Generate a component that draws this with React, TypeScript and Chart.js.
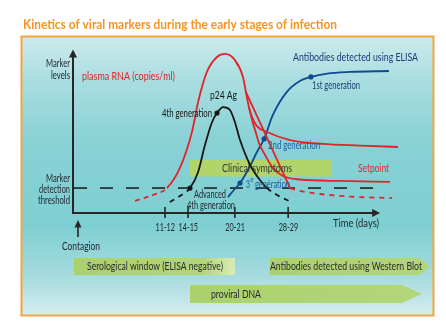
import React, { useEffect, useRef } from "react";
import { Chart, registerables } from "chart.js";

Chart.register(...registerables);

const W = 446;
const H = 332;
const FONT = "'Liberation Sans Narrow', 'Lato', 'Open Sans', sans-serif";

// Time axis (arbitrary units 0-100) and marker level (0-100)
const tickValues = [28.3, 35.4, 49.8, 66.2];
const tickLabels = ["11-12", "14-15", "20-21", "28-29"];
const threshold = 15.5;
const axisEnd = 94.5;
const axisTop = 101.5;
const thresholdEnd = 93.2;

// plasma RNA: rise, peak and high setpoint
const rnaX = [19.1, 24.6, 28.9, 32.9, 36.6, 38.5, 41.2, 44.3, 46.8, 49.8, 52.3, 53.2, 54.2, 55.1, 56.6, 59.7, 66.8, 76.9, 88.3, 100];
const rnaY = [7.5, 11.2, 15.5, 28.0, 50.3, 68.9, 87.6, 96.9, 98.8, 95.0, 84.5, 75.2, 65.2, 59.6, 54.0, 50.3, 45.3, 42.9, 41.9, 41.0];
// plasma RNA: lower setpoint
const rnaLowX = [54.2, 55.1, 56.3, 57.2, 59.1, 61.5, 64.6, 69.8, 82.2, 97.5];
const rnaLowY = [65.2, 57.8, 49.7, 43.5, 36.0, 28.0, 23.0, 20.8, 19.9, 19.3];
// plasma RNA: drop below detection
const rnaDropX = [53.2, 66.8];
const rnaDropY = [75.2, 15.5];
const rnaTailX = [66.8, 69.8, 76.0, 85.2, 98.2];
const rnaTailY = [15.5, 13.7, 11.8, 10.2, 9.3];
// p24 antigen
const p24X = [29.8, 32.9, 36.0, 38.5, 40.6, 42.8, 44.3, 46.2, 48.3, 49.8, 51.4, 54.5, 57.5, 59.7, 62.8, 67.1];
const p24Y = [6.8, 10.6, 15.5, 25.5, 42.2, 56.5, 62.1, 65.8, 64.0, 56.5, 45.3, 29.8, 20.5, 15.5, 11.2, 6.8];
const p24Dots = [2, 6];
// antibodies (ELISA)
const abX = [47.7, 49.5, 51.4, 54.5, 56.6, 58.8, 61.5, 65.8, 69.8, 73.2, 78.2, 85.2, 97.2];
const abY = [9.9, 14.3, 18.6, 29.2, 37.9, 46.0, 60.9, 75.2, 82.0, 84.5, 86.6, 87.6, 88.2];
const abDots = [2, 5, 9];

// bands below the axis
const clinicalStart = 36.0;
const clinicalEnd = 79.7;
const bandLabels = ["Serological window (ELISA negative)", "Antibodies detected using Western Blot", "proviral DNA"];
const bandStart = [0.3, 60.6, 36.0];
const bandEnd = [49.8, 109.8, 107.4];

const RED = "#e3232b";
const BLUE = "#0e4a90";
const BLACK = "#161616";
const DARK = "#232830";
const NAVY = "#1b3b74";
const LBLUE = "#1f5ca5";
const GREEN = "#abd16b";

const pts = (xs: number[], ys: number[]) => xs.map((x, i) => ({ x, y: ys[i] }));

function fitText(ctx: CanvasRenderingContext2D, s: string, x0: number, x1: number, y: number, size: number, color: string, weight = "normal") {
  ctx.save();
  ctx.font = `${weight} ${size}px ${FONT}`;
  ctx.fillStyle = color;
  ctx.textBaseline = "middle";
  ctx.textAlign = "left";
  const w = ctx.measureText(s).width;
  ctx.translate(x0, y);
  ctx.scale((x1 - x0) / w, 1);
  ctx.fillText(s, 0, 0);
  ctx.restore();
}

const decor = {
  id: "decor",
  beforeDraw(chart: any) {
    const ctx: CanvasRenderingContext2D = chart.ctx;
    const xs = chart.scales.x;
    const ys = chart.scales.y;
    ctx.save();
    ctx.fillStyle = "#ffffff";
    ctx.fillRect(0, 0, W, H);
    const g = ctx.createLinearGradient(0, 37, 0, 315);
    g.addColorStop(0, "#cdeaec");
    g.addColorStop(0.15, "#aadee1");
    g.addColorStop(0.38, "#88d1d5");
    g.addColorStop(0.68, "#7ecfd2");
    g.addColorStop(0.86, "#a6dbde");
    g.addColorStop(1, "#d5edef");
    ctx.fillStyle = g;
    ctx.fillRect(21.5, 36.5, 412, 279);
    ctx.strokeStyle = "#f6a43c";
    ctx.lineWidth = 2;
    ctx.strokeRect(21.5, 36.5, 412, 279);

    fitText(ctx, "Kinetics of viral markers during the early stages of infection", 23, 337, 25, 13, "#f7941d", "bold");

    // clinical symptoms box
    const cx0 = xs.getPixelForValue(clinicalStart);
    const cx1 = xs.getPixelForValue(clinicalEnd);
    ctx.fillStyle = "#b2d56b";
    ctx.fillRect(cx0, 160, cx1 - cx0, 16.5);

    // threshold
    const ty = ys.getPixelForValue(threshold);
    ctx.strokeStyle = BLACK;
    ctx.lineWidth = 1.5;
    ctx.setLineDash([13, 13]);
    ctx.beginPath();
    ctx.moveTo(xs.getPixelForValue(0) + 1, ty);
    ctx.lineTo(xs.getPixelForValue(thresholdEnd), ty);
    ctx.stroke();
    ctx.setLineDash([]);

    // axes
    const x0 = xs.getPixelForValue(0);
    const y0 = ys.getPixelForValue(0);
    const xe = xs.getPixelForValue(axisEnd);
    const yt = ys.getPixelForValue(axisTop);
    ctx.strokeStyle = "#262626";
    ctx.fillStyle = "#262626";
    ctx.lineWidth = 2;
    ctx.beginPath();
    ctx.moveTo(x0, yt + 6);
    ctx.lineTo(x0, y0);
    ctx.lineTo(xe - 6, y0);
    ctx.stroke();
    ctx.beginPath();
    ctx.moveTo(x0, yt);
    ctx.lineTo(x0 - 4, yt + 8);
    ctx.lineTo(x0 + 4, yt + 8);
    ctx.closePath();
    ctx.fill();
    ctx.beginPath();
    ctx.moveTo(xe, y0);
    ctx.lineTo(xe - 8, y0 - 4);
    ctx.lineTo(xe - 8, y0 + 4);
    ctx.closePath();
    ctx.fill();

    // ticks
    ctx.lineWidth = 1.6;
    tickValues.forEach((v, i) => {
      const px = xs.getPixelForValue(v);
      ctx.beginPath();
      ctx.moveTo(px, y0 - 6);
      ctx.lineTo(px, y0 + 5);
      ctx.stroke();
      fitText(ctx, tickLabels[i], px - 9.5, px + 10, 227, 11.5, DARK);
    });

    // contagion arrow
    ctx.lineWidth = 1.6;
    ctx.beginPath();
    ctx.moveTo(78, 237);
    ctx.lineTo(78, 226);
    ctx.stroke();
    ctx.beginPath();
    ctx.moveTo(78, 220);
    ctx.lineTo(74.5, 227.5);
    ctx.lineTo(81.5, 227.5);
    ctx.closePath();
    ctx.fill();
    ctx.restore();
  },
  afterDatasetsDraw(chart: any) {
    const ctx: CanvasRenderingContext2D = chart.ctx;
    const xs = chart.scales.x;
    ctx.save();

    // axis texts
    fitText(ctx, "Marker", 46, 70, 63.5, 11.5, DARK);
    fitText(ctx, "levels", 51, 70, 75.5, 11.5, DARK);
    fitText(ctx, "Marker", 46, 70, 178, 11.5, DARK);
    fitText(ctx, "detection", 39, 70, 189, 11.5, DARK);
    fitText(ctx, "threshold", 38, 70, 200, 11.5, DARK);
    fitText(ctx, "Time (days)", 333, 379, 223, 12, DARK);
    fitText(ctx, "Contagion", 62, 100, 246, 12, DARK);

    // curve labels
    fitText(ctx, "plasma RNA (copies/ml)", 82, 175, 76, 12, RED);
    fitText(ctx, "p24 Ag", 210, 237, 95, 12, BLACK);
    fitText(ctx, "4th generation", 162, 212, 113, 11, BLACK);
    fitText(ctx, "Antibodies detected using ELISA", 293, 418, 57, 12, NAVY);
    fitText(ctx, "1st generation", 312, 360, 85, 11, NAVY);
    fitText(ctx, "2nd generation", 268, 320, 145, 11, LBLUE);
    fitText(ctx, "3", 246, 250, 184, 11, LBLUE);
    fitText(ctx, "e", 250.5, 253.5, 180, 7, LBLUE);
    fitText(ctx, "génération", 255, 290, 184, 11, LBLUE);
    fitText(ctx, "Clinical symptoms", 222, 292, 168, 12, "#30353a");
    fitText(ctx, "Setpoint", 358, 389, 168, 12, RED);
    fitText(ctx, "Advanced", 194, 226, 194, 11, DARK);
    fitText(ctx, "4th generation", 187, 235, 205, 11, DARK);

    // bottom bands
    const rows = [[258, 275], [258, 275], [285, 303]];
    const heads = [0, 10, 20];
    const textX = [[87, 223], [270, 422], [211, 261]];
    bandLabels.forEach((lab, i) => {
      const a = xs.getPixelForValue(bandStart[i]);
      const b = xs.getPixelForValue(bandEnd[i]);
      const [t, bt] = rows[i];
      const gr = ctx.createLinearGradient(a, 0, b, 0);
      if (i === 0) {
        gr.addColorStop(0, GREEN);
        gr.addColorStop(0.8, "#b4d576");
        gr.addColorStop(1, "#dcebb6");
      } else {
        gr.addColorStop(0, GREEN);
        gr.addColorStop(1, "#b3d67a");
      }
      ctx.fillStyle = gr;
      ctx.beginPath();
      ctx.moveTo(a, t);
      ctx.lineTo(b - heads[i], t);
      ctx.lineTo(b, (t + bt) / 2);
      ctx.lineTo(b - heads[i], bt);
      ctx.lineTo(a, bt);
      ctx.closePath();
      ctx.fill();
      fitText(ctx, lab, textX[i][0], textX[i][1], (t + bt) / 2, 12, "#272b30");
    });
    ctx.restore();
  },
};

export default function App() {
  const ref = useRef<HTMLCanvasElement | null>(null);
  useEffect(() => {
    if (!ref.current) return;
    const line = (data: any, color: string, extra: any = {}) => ({
      type: "line",
      data,
      borderColor: color,
      backgroundColor: color,
      borderWidth: 1.8,
      pointRadius: 0,
      fill: false,
      tension: 0.4,
      cubicInterpolationMode: "monotone",
      clip: false,
      ...extra,
    });
    const chart = new Chart(ref.current, {
      type: "line",
      data: {
        datasets: [
          line(pts(rnaX, rnaY), RED, {
            segment: { borderDash: (c: any) => (c.p0DataIndex < 2 ? [5, 4] : undefined) },
          }),
          line(pts(rnaLowX, rnaLowY), RED),
          line(pts(rnaDropX, rnaDropY), RED, { tension: 0, cubicInterpolationMode: "default" }),
          line(pts(rnaTailX, rnaTailY), RED, { borderDash: [5, 5] }),
          line(pts(p24X, p24Y), BLACK, {
            segment: { borderDash: (c: any) => (c.p0DataIndex < 2 || c.p0DataIndex >= 13 ? [5, 5] : undefined) },
            pointRadius: (c: any) => (p24Dots.includes(c.dataIndex) ? 2.6 : 0),
            pointBorderWidth: 0,
          }),
          line(pts(abX, abY), BLUE, {
            pointRadius: (c: any) => (abDots.includes(c.dataIndex) ? 2.6 : 0),
            pointBorderWidth: 0,
          }),
        ] as any,
      },
      options: {
        responsive: false,
        animation: false,
        devicePixelRatio: 1,
        layout: { padding: { left: 73, top: 52, right: 48, bottom: 119 } },
        scales: {
          x: { type: "linear", min: 0, max: 100, display: false },
          y: { type: "linear", min: 0, max: 100, display: false },
        },
        plugins: { legend: { display: false }, tooltip: { enabled: false } },
        events: [],
      },
      plugins: [decor],
    } as any);
    return () => chart.destroy();
  }, []);
  return (
    <div style={{ position: "absolute", left: 0, top: 0, width: W, height: H }}>
      <canvas ref={ref} width={W} height={H} style={{ display: "block" }} />
    </div>
  );
}
